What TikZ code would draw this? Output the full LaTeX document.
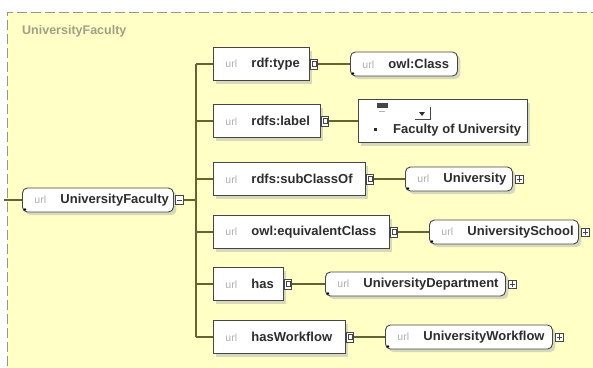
\documentclass[tikz,border=0pt]{standalone}
\usepackage{fontspec}
\setmainfont{Liberation Sans}
\usetikzlibrary{shadows}

\definecolor{canvas}{RGB}{255,255,198}
\definecolor{frameline}{RGB}{150,150,140}
\definecolor{wire}{RGB}{100,100,50}
\definecolor{edge}{RGB}{70,70,70}
\definecolor{urlgrey}{RGB}{175,175,175}
\definecolor{labeltxt}{RGB}{45,45,45}
\definecolor{titletxt}{RGB}{160,160,135}

% "url" prefix followed by the bold name of the entry
\newcommand{\urlname}[1]{\mbox{\makebox[26pt][l]{\fontsize{10.5}{12}\selectfont\mdseries\color{urlgrey}url}#1}}

\tikzset{
  x=1pt, y=-1pt,
  base/.style={draw=edge, line width=0.9pt, fill=white, inner xsep=12pt, inner ysep=0pt,
    align=left, anchor=west, font=\fontsize{13}{15}\selectfont\bfseries, text=labeltxt,
    drop shadow={shadow xshift=3pt, shadow yshift=-3pt, fill=black!30}},
  prop/.style={base, rectangle, minimum height=33pt},
  ref/.style={base, rounded corners=5pt, minimum height=24pt},
  wire/.style={draw=wire, line width=1.3pt},
  conn/.style={draw=edge, line width=0.7pt, fill=white, rectangle, anchor=west,
    minimum width=7pt, minimum height=10pt, inner sep=0pt},
  expander/.style={draw=edge, line width=0.7pt, fill=white, rectangle, anchor=west,
    minimum width=8pt, minimum height=8pt, inner sep=0pt},
}

\begin{document}
\begin{tikzpicture}
\useasboundingbox (0,0) rectangle (593,367);

% yellow canvas with its dashed frame
\fill[canvas] (7,12) rectangle (600,380);
\draw[frameline, line width=1pt, dash pattern=on 10pt off 4pt] (7,380) -- (7,12) -- (600,12);
\node[anchor=west, inner sep=0pt, font=\fontsize{12.5}{14}\selectfont\bfseries, text=titletxt]
  (title) at (22,31) {UniversityFaculty};

% root class
\node[ref, text width=127pt] (root) at (22,200) {\urlname{UniversityFaculty}};
\node[expander, minimum height=9pt] (rooticon) at ([xshift=1pt]root.east) {};
\draw[edge, line width=0.8pt] ([xshift=2pt]rooticon.west) -- ([xshift=-2pt]rooticon.east);

% property boxes
\node[prop, text width=72pt]  (ptype)  at (213,64)  {\urlname{rdf:type}};
\node[prop, text width=83pt]  (plabel) at (213,121) {\urlname{rdfs:label}};
\node[prop, text width=128pt] (psub)   at (213,179) {\urlname{rdfs:subClassOf}};
\node[prop, text width=152pt] (pequiv) at (213,232) {\urlname{owl:equivalentClass}};
\node[prop, text width=46pt]  (phas)   at (213,284) {\urlname{has}};
\node[prop, text width=108pt] (pwf)    at (213,337) {\urlname{hasWorkflow}};

% connector icons on the right of each property
\foreach \p in {ptype,plabel,psub,pequiv,phas,pwf}{
  \node[conn] (c\p) at (\p.east) {};
  \draw[edge, line width=0.6pt] ([shift={(2pt,2.5pt)}]c\p.west) rectangle ([shift={(-1.5pt,-2.5pt)}]c\p.east);
}

% trunk and branches
\coordinate (trunk) at (196,64);
\coordinate (inlet) at (4,200);
\draw[wire] (trunk) -- (trunk |- pwf.west);
\draw[wire] (inlet) -- (root.west);
\draw[wire] (rooticon.east) -- (trunk |- rooticon.east);
\foreach \p in {ptype,plabel,psub,pequiv,phas,pwf}{
  \draw[wire] (trunk |- \p.west) -- (\p.west);
}

% referenced values
\node[ref, text width=83pt]  (tclass)  at (350,64)  {\urlname{owl:Class}};
\node[ref, text width=83pt]  (tuni)    at (405,179) {\urlname{University}};
\node[ref, text width=125pt] (tschool) at (429,232) {\urlname{UniversitySchool}};
\node[ref, text width=156pt] (tdept)   at (325,284) {\urlname{UniversityDepartment}};
\node[ref, text width=143pt] (twf)     at (385,337) {\urlname{UniversityWorkflow}};

% literal value of rdfs:label
\node[base, rectangle, minimum width=169pt, minimum height=43pt] (tlabel) at (358,121) {};
\fill[edge] (377,103) rectangle (388,108);
\draw[urlgrey, line width=0.6pt] (379,111) -- (385,111);
\draw[edge, line width=0.7pt] (415,119) -- (430,119);
\draw[edge, line width=0.7pt] (430,107) -- (430,120);
\fill[labeltxt] (419,112) -- (425,112) -- (422,116) -- cycle;
\fill[labeltxt] (374,128) rectangle (377,131);
\node[anchor=west, inner sep=0pt, font=\fontsize{13}{15}\selectfont\bfseries, text=labeltxt]
  (labeltext) at (393,130) {Faculty of University};

% links from properties to their values
\draw[wire] (cptype.east)  -- (tclass.west);
\draw[wire] (cplabel.east) -- (tlabel.west);
\draw[wire] (cpsub.east)   -- (tuni.west);
\draw[wire] (cpequiv.east) -- (tschool.west);
\draw[wire] (cphas.east)   -- (tdept.west);
\draw[wire] (cpwf.east)    -- (twf.west);

% reference markers and expand buttons
\foreach \t in {root,tclass,tuni,tschool,tdept,twf}{
  \fill[black] ([shift={(3pt,3pt)}]\t.south west) circle (1.4pt);
}
\foreach \t in {tuni,tschool,tdept,twf}{
  \node[expander] (x\t) at ([xshift=2pt]\t.east) {};
  \draw[edge, line width=0.7pt] ([xshift=1.8pt]x\t.west) -- ([xshift=-1.8pt]x\t.east)
    ([yshift=1.8pt]x\t.south) -- ([yshift=-1.8pt]x\t.north);
}
\end{tikzpicture}
\end{document}
